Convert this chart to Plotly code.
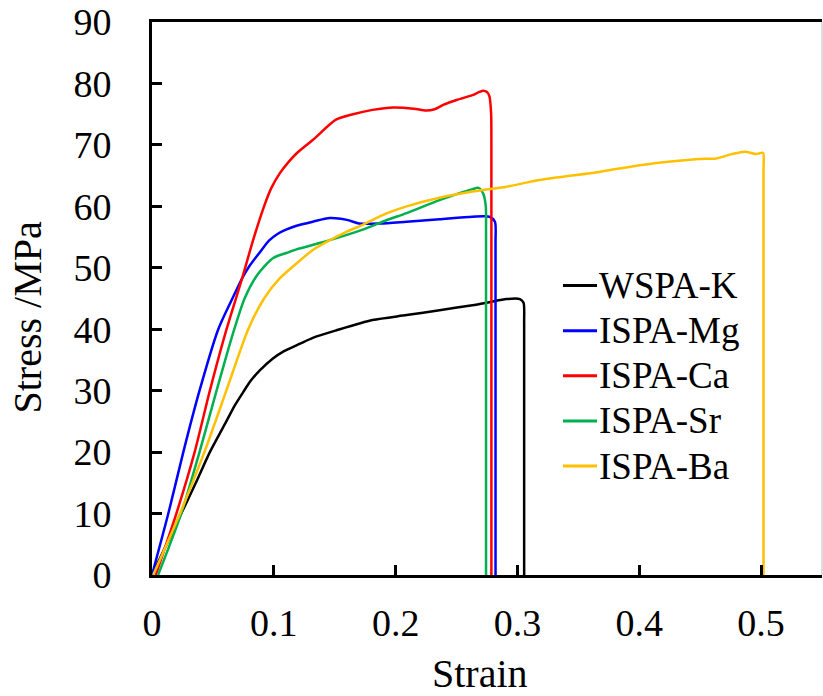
import plotly.graph_objects as go

# ---- data (strain, stress MPa) ----
k_x = [0, 0.012, 0.024, 0.036, 0.0475, 0.061, 0.068, 0.075, 0.081, 0.0885, 0.099, 0.108,
       0.121, 0.132, 0.151, 0.181, 0.209, 0.236, 0.263, 0.277, 0.291, 0.302, 0.305, 0.3055,
       0.3055]
k_y = [0, 5, 10, 15, 20, 25, 27.6, 29.8, 31.6, 33.3, 35.2, 36.4,
       37.6, 38.6, 39.8, 41.5, 42.3, 43.1, 43.9, 44.4, 44.9, 44.9, 44.3, 41, 0]

mg_x = [0, 0.0134, 0.0257, 0.039, 0.0544, 0.066, 0.074, 0.080, 0.090, 0.096, 0.103, 0.110,
        0.118, 0.132, 0.146, 0.160, 0.170, 0.187, 0.209, 0.236, 0.263, 0.277, 0.2815, 0.282,
        0.282]
mg_y = [0, 10, 20, 30, 40, 45, 48.3, 50.3, 52.9, 54.4, 55.5, 56.2,
        56.8, 57.5, 58.1, 57.8, 57.2, 57.2, 57.5, 57.9, 58.3, 58.3, 57.5, 54, 0]

ca_x = [0.003, 0.020, 0.035, 0.0475, 0.0612, 0.074, 0.083, 0.092, 0.098, 0.105, 0.112,
        0.1186, 0.132, 0.151, 0.165, 0.181, 0.198, 0.215, 0.225, 0.232, 0.239, 0.25, 0.263,
        0.2716, 0.275, 0.277, 0.2784, 0.2786, 0.2786]
ca_y = [0, 10, 20, 30, 40, 48.3, 54.5, 60, 63, 65.4, 67.2,
        68.6, 70.8, 74.1, 75.0, 75.7, 76.1, 75.9, 75.6, 75.8, 76.5, 77.3, 78.1,
        78.8, 78.6, 77.9, 75, 70, 0]

sr_x = [0.005, 0.024, 0.039, 0.053, 0.066, 0.076, 0.087, 0.0995, 0.113, 0.1186, 0.146,
        0.173, 0.192, 0.209, 0.236, 0.263, 0.268, 0.272, 0.274, 0.2742, 0.2742]
sr_y = [0, 10, 20, 30, 39, 45, 49, 51.6, 52.6, 53, 54.5,
        56.2, 57.7, 58.9, 61.0, 62.8, 63, 62.0, 60, 56, 0]

ba_x = [0.001, 0.023, 0.043, 0.061, 0.079, 0.092, 0.105, 0.1186, 0.132, 0.146, 0.160,
        0.173, 0.192, 0.209, 0.236, 0.263, 0.291, 0.318, 0.367, 0.394, 0.422, 0.449,
        0.463, 0.476, 0.487, 0.496, 0.5016, 0.502, 0.502]
ba_y = [0, 10, 20, 30, 40, 45, 48.3, 50.7, 52.9, 54.5, 55.9,
        57, 58.8, 60.0, 61.4, 62.4, 63.2, 64.3, 65.6, 66.5, 67.2, 67.7,
        67.8, 68.5, 68.9, 68.5, 68.7, 66, 0]

names = ["WSPA-K", "ISPA-Mg", "ISPA-Ca", "ISPA-Sr", "ISPA-Ba"]
colors = ["#000000", "#0000FF", "#FF0000", "#00B050", "#FFC000"]
xs = [k_x, mg_x, ca_x, sr_x, ba_x]
ys = [k_y, mg_y, ca_y, sr_y, ba_y]

x_ticks = [0, 0.1, 0.2, 0.3, 0.4, 0.5]
x_ticklabels = ["0", "0.1", "0.2", "0.3", "0.4", "0.5"]
y_ticks = [0, 10, 20, 30, 40, 50, 60, 70, 80, 90]
x_title = "Strain"
y_title = "Stress /MPa"

FONT = "Liberation Serif"

fig = go.Figure()
for n, c, x, y in zip(names, colors, xs, ys):
    fig.add_trace(go.Scatter(x=x, y=y, mode="lines", name=n, showlegend=False,
                             line=dict(color=c, width=2.5, shape="spline", smoothing=0.7)))

fig.update_layout(
    template="none",
    width=823, height=696,
    margin=dict(l=152, r=1, t=22, b=121),
    paper_bgcolor="white", plot_bgcolor="white",
    font=dict(family=FONT, color="black", size=38),
    showlegend=False,
    xaxis=dict(range=[0, 0.55], tickvals=x_ticks, ticktext=x_ticklabels,
               ticks="inside", ticklen=10, tickwidth=3, tickcolor="black",
               showline=True, linewidth=3, linecolor="black", mirror=True,
               showgrid=False, zeroline=False,
               tickfont=dict(family=FONT, size=38, color="black"),
               ticklabelstandoff=12),
    yaxis=dict(range=[0, 90], tickvals=y_ticks,
               ticks="inside", ticklen=10, tickwidth=3, tickcolor="black",
               showline=True, linewidth=3, linecolor="black",
               showgrid=False, zeroline=False,
               tickfont=dict(family=FONT, size=38, color="black"),
               ticklabelstandoff=30),
)

# axis titles
fig.add_annotation(x=0.4896, y=-0.179, xref="paper", yref="paper", text=x_title,
                   showarrow=False, xanchor="center", yanchor="middle",
                   font=dict(family=FONT, size=40, color="black"))
fig.add_annotation(x=-0.1858, y=0.4647, xref="paper", yref="paper", text=y_title,
                   textangle=-90, showarrow=False, xanchor="center", yanchor="middle",
                   font=dict(family=FONT, size=40, color="black"))

# legend (line sample + label for each series)
leg_x0, leg_x1, leg_tx = 0.6134, 0.6642, 0.6655
leg_y0, leg_dy = 0.5234, 0.0816
for i, (n, c) in enumerate(zip(names, colors)):
    yy = leg_y0 - i * leg_dy
    fig.add_shape(type="line", xref="paper", yref="paper", x0=leg_x0, x1=leg_x1,
                  y0=yy, y1=yy, line=dict(color=c, width=3))
    fig.add_annotation(x=leg_tx, y=yy, xref="paper", yref="paper", text=n,
                       showarrow=False, xanchor="left", yanchor="middle", borderpad=0,
                       font=dict(family=FONT, size=37, color="black"))

fig.add_shape(type="line", xref="paper", yref="paper", x0=1, x1=1, y0=0, y1=1,
              line=dict(color="#BBBBBB", width=1))

fig.write_html("out.html")
